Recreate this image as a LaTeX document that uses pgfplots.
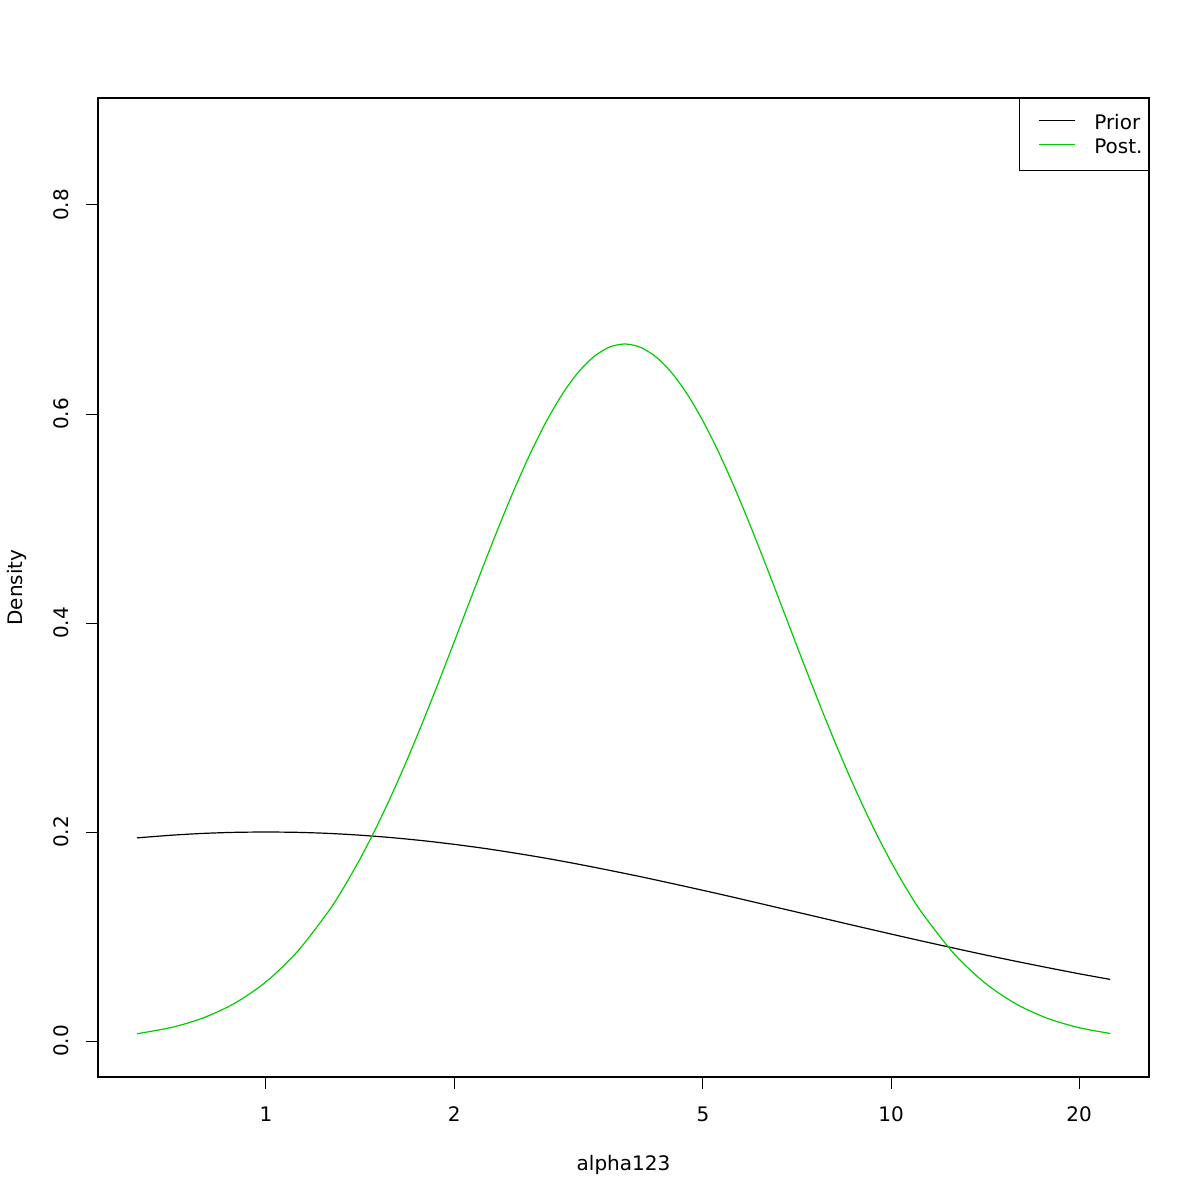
\documentclass[border=0pt]{standalone}
\usepackage{fontspec}
\setmainfont{DejaVu Sans}
\usepackage{pgfplots}
\pgfplotsset{compat=1.18}
\definecolor{rgreen}{RGB}{0,205,0}
\newcommand{\rfont}{\fontsize{10bp}{12bp}\selectfont}
\begin{document}
\rfont
\begin{tikzpicture}
\path[use as bounding box] (0,0) rectangle (600bp,600bp);
\begin{axis}[at={(49bp,61.5bp)}, anchor=south west, scale only axis,
  width=525.5bp, height=489.5bp,
  xmin=-0.2687, xmax=1.4127, ymin=-0.0344, ymax=0.9024,
  xtick={0,0.30103,0.69897,1,1.30103}, xticklabels={1,2,5,10,20},
  ytick={0,0.2,0.4,0.6,0.8}, yticklabels={0.0,0.2,0.4,0.6,0.8},
  tick align=outside, major tick length=6bp,
  tick style={black, line width=0.5bp},
  xtick pos=bottom, ytick pos=left,
  axis line style={line width=0.6bp},
  ticklabel style={font=\rfont},
  xticklabel style={anchor=base, yshift=-16bp},
  yticklabel style={xshift=-8.5bp, rotate=90, anchor=base},
  xlabel={alpha123}, ylabel={Density},
  every axis x label/.style={at={(axis description cs:0.5,0)}, anchor=base, yshift=-46.5bp, font=\rfont},
  every axis y label/.style={at={(axis description cs:-0.0714,0.5)}, rotate=90, anchor=base, font=\rfont},
  legend style={at={(rel axis cs:1,1)}, anchor=north east, draw=black,
    line width=0.5bp, font=\rfont, inner xsep=3bp, inner ysep=7.5bp,
    nodes={inner sep=0pt, text height=8bp, text depth=1bp},
    row sep=3bp, cells={anchor=west}},
  legend image code/.code={\path (0bp,0bp) (34bp,0bp); \draw[#1] (6.5bp,1bp) -- (24.5bp,1bp);},
]
\addplot[black, line width=0.6bp, smooth] coordinates {
(-0.2064,0.1944) (-0.15,0.1970) (-0.10,0.1987) (-0.05,0.1997) (0,0.2000)
(0.05,0.1997) (0.10,0.1987) (0.15,0.1970) (0.20,0.1947) (0.25,0.1918)
(0.30,0.1883) (0.35,0.1843) (0.40,0.1797) (0.45,0.1747) (0.50,0.1692)
(0.55,0.1633) (0.60,0.1572) (0.65,0.1507) (0.70,0.1441) (0.75,0.1373)
(0.80,0.1303) (0.85,0.1233) (0.90,0.1163) (0.95,0.1093) (1.00,0.1024)
(1.05,0.0956) (1.10,0.0890) (1.15,0.0825) (1.20,0.0763) (1.25,0.0703)
(1.30,0.0645) (1.3504,0.0590)
};
\addlegendentry{Prior}
\addplot[rgreen, line width=0.6bp, smooth] coordinates {
(-0.2064,0.00699) (-0.15,0.01319) (-0.10,0.02225) (-0.05,0.03617) (0,0.05664)
(0.05,0.08542) (0.10,0.1241) (0.125,0.1475) (0.15,0.1737) (0.175,0.2026)
(0.20,0.2341) (0.225,0.2680) (0.25,0.3040) (0.275,0.3416) (0.30,0.3802)
(0.325,0.4193) (0.35,0.4581) (0.375,0.4959) (0.40,0.5317) (0.425,0.5649)
(0.45,0.5945) (0.475,0.6198) (0.50,0.6402) (0.525,0.6551) (0.55,0.6641)
(0.575,0.6670) (0.60,0.6636) (0.625,0.6541) (0.65,0.6388) (0.675,0.6180)
(0.70,0.5923) (0.725,0.5624) (0.75,0.5290) (0.775,0.4930) (0.80,0.4551)
(0.825,0.4162) (0.85,0.3771) (0.875,0.3385) (0.90,0.3010) (0.925,0.2652)
(0.95,0.2315) (0.975,0.2002) (1.00,0.1715) (1.025,0.1455) (1.05,0.1223)
(1.10,0.0841) (1.15,0.0557) (1.20,0.0355) (1.25,0.0218) (1.30,0.0129)
(1.3504,0.0073)
};
\addlegendentry{Post.}
\end{axis}
\end{tikzpicture}
\end{document}
